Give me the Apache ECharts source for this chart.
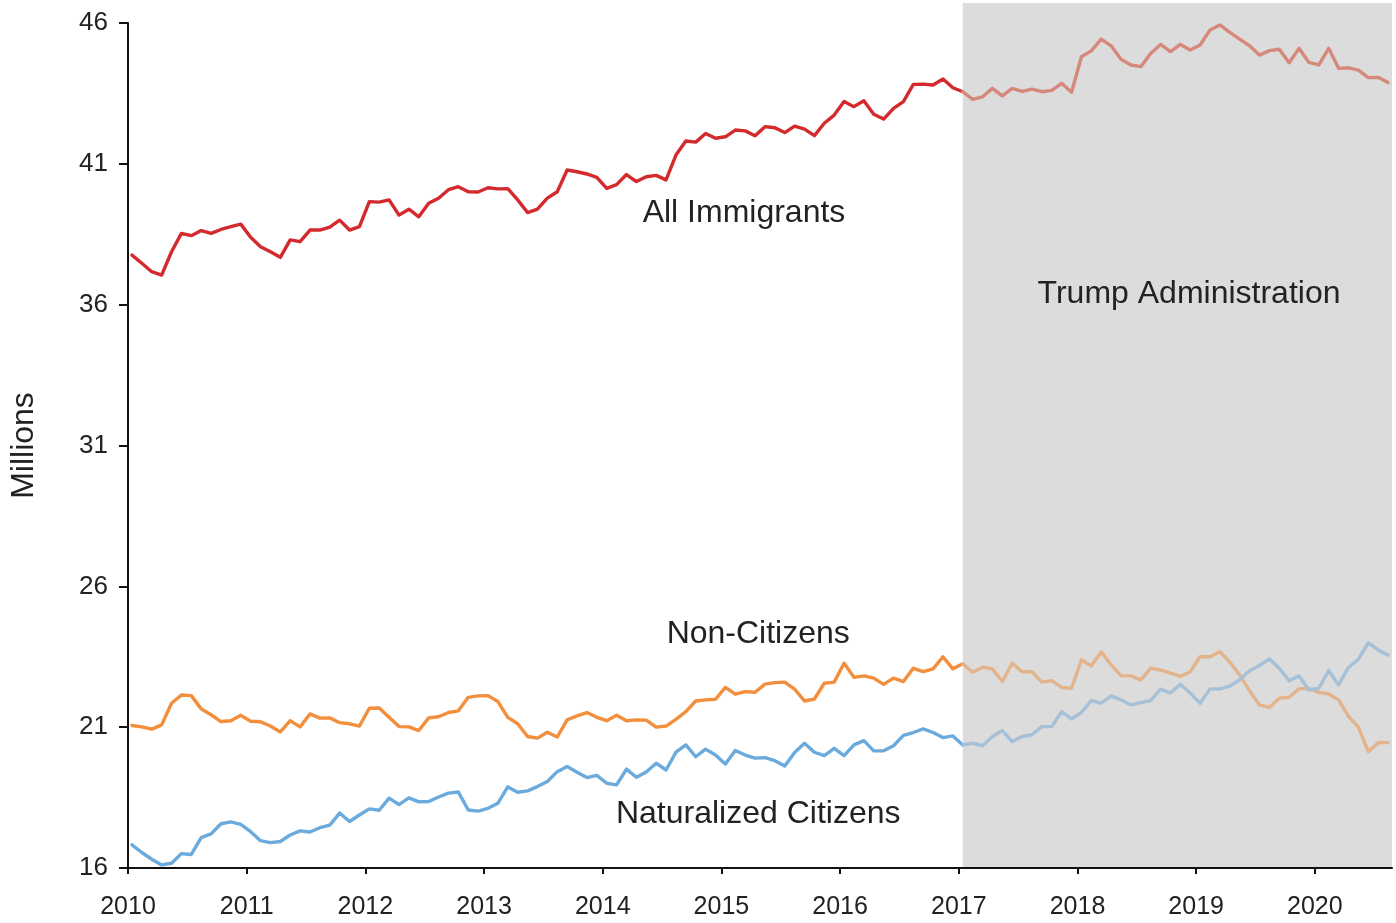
<!DOCTYPE html>
<html>
<head>
<meta charset="utf-8">
<script src="https://cdn.jsdelivr.net/npm/echarts@6/dist/echarts.min.js"></script>
<style>
html,body{margin:0;padding:0;background:#ffffff;}
#chart{width:1396px;height:923px;}
</style>
</head>
<body>
<div id="chart"></div>
<script>
// ---- data (millions, monthly from Jan 2010 to Aug 2020) ----
const startYear = 2010;
const allImmigrants = [
37.76,37.47,37.17,37.05,37.88,38.53,38.45,38.63,38.53,38.67,38.77,38.86,
38.39,38.06,37.88,37.68,38.30,38.24,38.65,38.65,38.75,39.00,38.65,38.77,
39.66,39.64,39.72,39.18,39.39,39.12,39.60,39.78,40.08,40.19,40.01,40.00,
40.15,40.11,40.12,39.72,39.27,39.39,39.78,40.01,40.78,40.72,40.64,40.52,
40.13,40.26,40.62,40.37,40.54,40.59,40.43,41.31,41.81,41.77,42.08,41.91,
41.96,42.20,42.17,42.00,42.32,42.28,42.11,42.34,42.23,42.00,42.44,42.73,
43.21,43.03,43.24,42.76,42.59,42.97,43.21,43.82,43.83,43.80,44.01,43.70,
43.56,43.29,43.38,43.68,43.41,43.68,43.57,43.65,43.56,43.61,43.86,43.54,
44.80,45.01,45.43,45.19,44.71,44.51,44.45,44.92,45.24,44.98,45.24,45.04,
45.22,45.75,45.93,45.67,45.43,45.19,44.86,45.02,45.07,44.59,45.10,44.60,
44.51,45.10,44.39,44.41,44.33,44.06,44.07,43.89
];
const nonCitizens = [
21.06,21.01,20.93,21.08,21.85,22.14,22.12,21.65,21.44,21.20,21.23,21.42,
21.21,21.19,21.04,20.83,21.23,21.01,21.47,21.32,21.33,21.16,21.12,21.04,
21.67,21.68,21.35,21.02,21.01,20.88,21.33,21.37,21.52,21.58,22.06,22.11,
22.12,21.91,21.35,21.12,20.67,20.61,20.82,20.65,21.26,21.40,21.52,21.35,
21.23,21.42,21.23,21.26,21.25,21.00,21.04,21.28,21.55,21.93,21.97,21.99,
22.41,22.17,22.26,22.24,22.53,22.58,22.60,22.35,21.93,22.00,22.56,22.60,
23.27,22.77,22.82,22.74,22.52,22.74,22.62,23.09,22.97,23.07,23.50,23.07,
23.25,22.95,23.13,23.07,22.62,23.27,22.97,22.97,22.60,22.65,22.41,22.38,
23.39,23.17,23.68,23.21,22.83,22.82,22.68,23.09,23.03,22.92,22.80,22.97,
23.50,23.50,23.68,23.31,22.86,22.29,21.79,21.70,22.03,22.06,22.36,22.38,
22.23,22.18,21.97,21.38,21.00,20.13,20.45,20.45
];
const naturalized = [
16.82,16.55,16.31,16.11,16.17,16.51,16.48,17.08,17.21,17.57,17.64,17.55,
17.29,16.97,16.90,16.94,17.17,17.32,17.28,17.43,17.52,17.95,17.65,17.88,
18.10,18.05,18.48,18.25,18.49,18.35,18.36,18.52,18.66,18.70,18.06,18.02,
18.12,18.30,18.88,18.69,18.74,18.89,19.07,19.42,19.60,19.40,19.21,19.29,
19.01,18.95,19.51,19.22,19.41,19.72,19.48,20.11,20.37,19.95,20.22,20.01,
19.69,20.17,20.01,19.90,19.92,19.81,19.62,20.10,20.43,20.11,19.99,20.25,
19.99,20.37,20.52,20.16,20.16,20.34,20.71,20.81,20.94,20.81,20.63,20.69,
20.37,20.43,20.34,20.67,20.88,20.49,20.67,20.73,21.02,21.02,21.55,21.29,
21.52,21.94,21.85,22.11,21.97,21.79,21.87,21.94,22.35,22.21,22.52,22.21,
21.85,22.36,22.36,22.46,22.68,23.00,23.19,23.42,23.09,22.65,22.82,22.32,
22.38,23.01,22.50,23.12,23.41,24.00,23.74,23.56
];
const yearTicks = [2010,2011,2012,2013,2014,2015,2016,2017,2018,2019,2020];
const valueTicks = [16,21,26,31,36,41,46];
const trumpStartIndex = 84; // January 2017
const seriesLabels = [
  {text:'All Immigrants', x:2015.19, y:39.24},
  {text:'Trump Administration', x:2018.94, y:36.38},
  {text:'Non-Citizens', x:2015.31, y:24.30},
  {text:'Naturalized Citizens', x:2015.31, y:17.90}
];

// ---- layout / style ----
const FONT = '"Liberation Sans", Arial, Helvetica, sans-serif';
const TEXT = '#222222';
const xMin = 2010, xMax = 2020.65, yMin = 16, yMax = 46, shadeTopValue = 46.71;
const monthPos = i => startYear + (i + 0.4) / 12;
const shadeStart = monthPos(trumpStartIndex);
const toPairs = arr => arr.map((v, i) => [monthPos(i), v]);
const beforePart = arr => toPairs(arr).slice(0, trumpStartIndex + 1);
const afterPart = arr => toPairs(arr).slice(trumpStartIndex);

const colors = {
  red: ['#d42a2e', '#d4897a'],
  orange: ['#f28e3c', '#e3b48c'],
  blue: ['#6aaadc', '#a6c0d8']
};

const chart = echarts.init(document.getElementById('chart'), null, {renderer:'canvas'});

function lineSeries(name, data, color, z) {
  return {
    name, type:'line', data, showSymbol:false, symbol:'none', color,
    lineStyle:{width:3.4, color, join:'round', cap:'round'}, z, animation:false, silent:true
  };
}

chart.setOption({
  animation:false,
  backgroundColor:'#ffffff',
  grid:{left:128, right:4, top:23, bottom:55, containLabel:false},
  xAxis:{
    type:'value', min:xMin, max:xMax,
    axisLine:{show:true, lineStyle:{color:'#111', width:2}},
    axisTick:{show:true, length:6, customValues:yearTicks, lineStyle:{color:'#111', width:2}},
    axisLabel:{customValues:yearTicks, formatter:v => String(Math.round(v)), fontFamily:FONT, fontSize:25, color:TEXT, margin:27},
    splitLine:{show:false}
  },
  yAxis:{
    type:'value', min:yMin, max:yMax,
    name:'Millions', nameLocation:'middle', nameGap:88,
    nameTextStyle:{fontFamily:FONT, fontSize:32, color:TEXT},
    axisLine:{show:true, lineStyle:{color:'#111', width:2}},
    axisTick:{show:true, length:9, customValues:valueTicks, lineStyle:{color:'#111', width:2}},
    axisLabel:{customValues:valueTicks, fontFamily:FONT, fontSize:26, color:TEXT, margin:20},
    splitLine:{show:false}
  },
  series:[
    lineSeries('All Immigrants', beforePart(allImmigrants), colors.red[0], 3),
    lineSeries('All Immigrants (2017-)', afterPart(allImmigrants), colors.red[1], 3),
    lineSeries('Non-Citizens', beforePart(nonCitizens), colors.orange[0], 4),
    lineSeries('Non-Citizens (2017-)', afterPart(nonCitizens), colors.orange[1], 4),
    lineSeries('Naturalized Citizens', beforePart(naturalized), colors.blue[0], 5),
    lineSeries('Naturalized Citizens (2017-)', afterPart(naturalized), colors.blue[1], 5)
  ]
});

// shaded Trump administration period and text labels, positioned through the axes
const p0 = chart.convertToPixel({gridIndex:0}, [shadeStart, shadeTopValue]);
const p1 = chart.convertToPixel({gridIndex:0}, [xMax, yMin]);
const graphics = [{
  type:'rect', z:-10, silent:true,
  shape:{x:p0[0], y:p0[1], width:p1[0]-p0[0], height:p1[1]-p0[1]-1},
  style:{fill:'#dcdcdc'}
}];
seriesLabels.forEach(l => {
  const p = chart.convertToPixel({gridIndex:0}, [l.x, l.y]);
  graphics.push({
    type:'text', z:10, silent:true, x:p[0], y:p[1],
    style:{text:l.text, fontFamily:FONT, fontSize:32, fill:TEXT, align:'center', verticalAlign:'middle'}
  });
});
chart.setOption({graphic:graphics});
</script>
</body>
</html>
